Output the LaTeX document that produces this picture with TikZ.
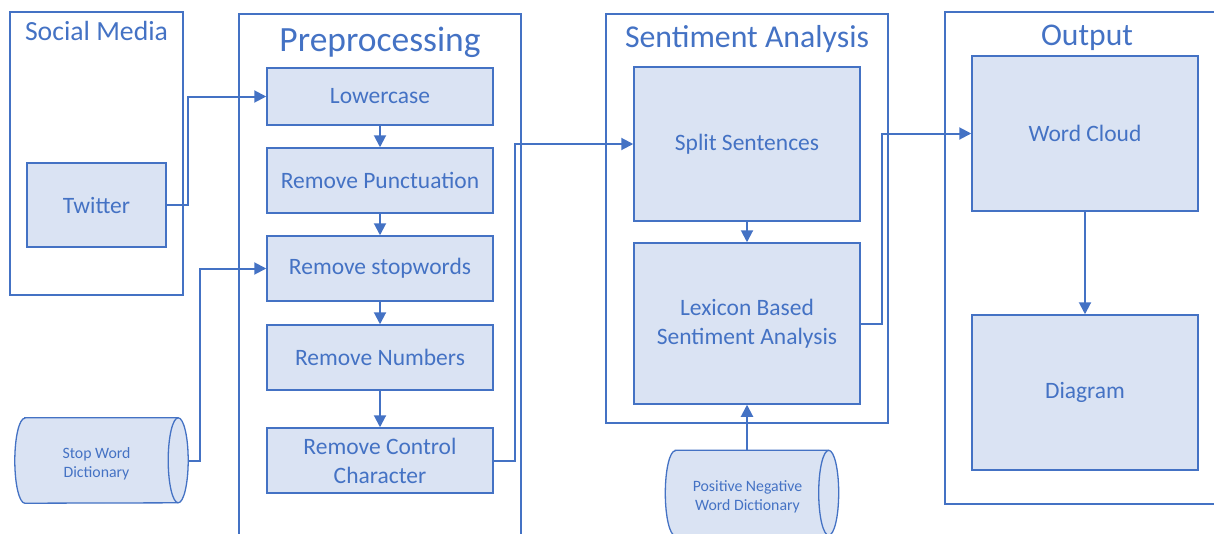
\documentclass[tikz,border=0pt]{standalone}
\usepackage{fontspec}
\setmainfont{Carlito}
\usetikzlibrary{arrows.meta}
\definecolor{ink}{HTML}{4472C4}
\definecolor{boxfill}{HTML}{DAE3F3}
\tikzset{
  x=1pt, y=-1pt,
  group/.style={draw=ink, line width=1.3pt},
  grouptitle/.style={text=ink, anchor=base, inner sep=0pt},
  stepbox/.style={draw=ink, fill=boxfill, line width=1.5pt, text=ink,
    align=center, inner sep=2pt, font=\fontsize{23.5}{29}\selectfont},
  dict/.style={text=ink, align=center, inner sep=0pt,
    font=\fontsize{15.8}{19}\selectfont},
  cyl/.style={draw=ink, fill=boxfill, line width=1.3pt},
  flow/.style={draw=ink, line width=2pt,
    -{Triangle[length=12pt,width=12pt]}},
}
\newcommand{\drumat}[1]{%
  % horizontal drum: half ellipse on the left, full ellipse on the right
  \path[cyl] ([xshift=10pt]#1.north west) -- ([xshift=-10pt]#1.north east)
    arc[start angle=90, end angle=-90, x radius=10pt, y radius=42.5pt]
    -- ([xshift=10pt]#1.south west)
    arc[start angle=270, end angle=90, x radius=10pt, y radius=42.5pt] -- cycle;
  \draw[ink, line width=1.3pt] ([xshift=-10pt]#1.north east)
    arc[start angle=90, end angle=270, x radius=10pt, y radius=42.5pt];
}
\begin{document}
\begin{tikzpicture}
\useasboundingbox (0,0) rectangle (1214,533);

% stage frames
\draw[group] (10,12) rectangle (183,295);
\draw[group] (239,14) rectangle (521,560);
\draw[group] (606,14) rectangle (888,423);
\draw[group] (945,12) rectangle (1230,504);

\node[grouptitle, font=\fontsize{27.7}{32}\selectfont] (tsm) at (96.5,40) {Social Media};
\node[grouptitle, font=\fontsize{35.5}{40}\selectfont] (tpp) at (380,51) {Preprocessing};
\node[grouptitle, font=\fontsize{31.8}{36}\selectfont] (tsa) at (747,47) {Sentiment Analysis};
\node[grouptitle, font=\fontsize{31.6}{36}\selectfont] (tout) at (1087,45) {Output};

% source
\node[stepbox, minimum width=139pt, minimum height=84pt] (tw) at (96.5,205) {Twitter};

% preprocessing steps
\node[stepbox, minimum width=226pt, minimum height=57pt] (lc) at (380,96.5) {Lowercase};
\node[stepbox, minimum width=226pt, minimum height=65pt] (rp) at (380,180.5) {Remove Punctuation};
\node[stepbox, minimum width=226pt, minimum height=65pt] (rs) at (380,268.5) {Remove stopwords};
\node[stepbox, minimum width=226pt, minimum height=65pt] (rn) at (380,357.5) {Remove Numbers};
\node[stepbox, minimum width=226pt, minimum height=65pt] (rc) at (380,460.5) {Remove Control\\Character};

% sentiment analysis
\node[stepbox, minimum width=226pt, minimum height=154pt] (ss) at (747,144) {Split Sentences};
\node[stepbox, minimum width=226pt, minimum height=161pt] (lx) at (747,323.5) {Lexicon Based\\Sentiment Analysis};

% output
\node[stepbox, minimum width=226pt, minimum height=155pt] (wc) at (1085,133.5) {Word Cloud};
\node[stepbox, minimum width=226pt, minimum height=155pt] (dg) at (1085,392.5) {Diagram};

% dictionaries
\node[minimum width=173pt, minimum height=85pt, inner sep=0pt] (swd) at (101.5,460.5) {};
\drumat{swd}
\node[dict] (swdt) at ([xshift=-5pt,yshift=-3pt]swd.center) {Stop Word\\Dictionary};

\node[minimum width=173pt, minimum height=85pt, inner sep=0pt] (pnd) at (752,493) {};
\drumat{pnd}
\node[dict] (pndt) at ([xshift=-4.5pt,yshift=-3.5pt]pnd.center) {Positive Negative\\Word Dictionary};

% flow
\draw[flow] (tw.east) -- ++(21,0) |- (lc.west);
\draw[flow] (lc.south) -- (rp.north);
\draw[flow] (rp.south) -- (rs.north);
\draw[flow] (rs.south) -- (rn.north);
\draw[flow] (rn.south) -- (rc.north);
\draw[flow] (swd.east) -- ++(12,0) |- (rs.west);
\draw[flow] (rc.east) -- ++(21,0) |- (ss.west);
\draw[flow] (ss.south) -- (lx.north);
\draw[flow] (pnd.north -| lx.south) -- (lx.south);
\draw[flow] (lx.east) -- ++(21,0) |- (wc.west);
\draw[flow] (wc.south) -- (dg.north);
\end{tikzpicture}
\end{document}
